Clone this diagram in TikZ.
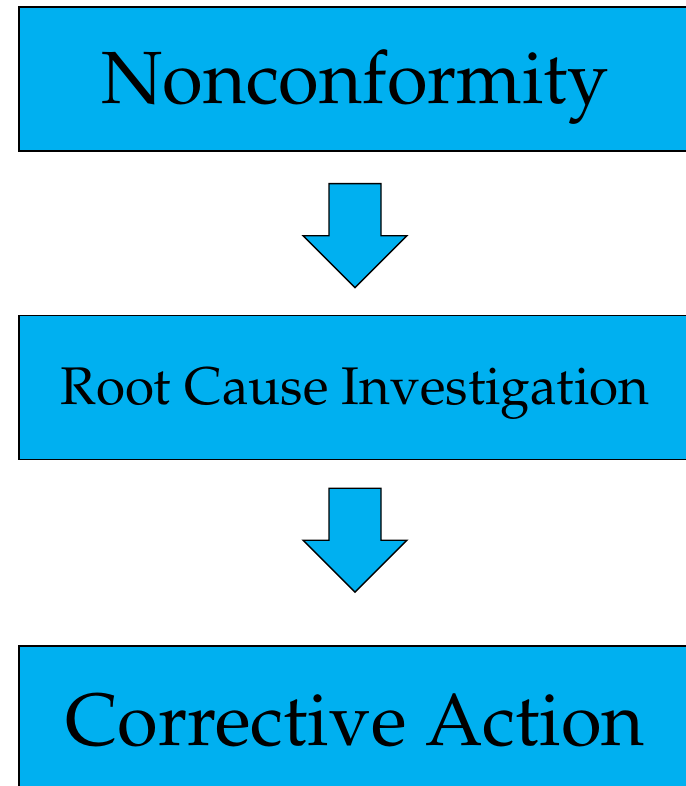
\documentclass[tikz,border=0pt]{standalone}
\usepackage[T1]{fontenc}
\usepackage{mathpazo}
\usetikzlibrary{positioning,calc}

\definecolor{boxblue}{RGB}{0,176,240}

\tikzset{
  stepbox/.style={draw=black, fill=boxblue, line width=1.3pt, rectangle,
    minimum width=672pt, minimum height=144pt, inner sep=0pt},
  blockarrow/.style={draw=black, fill=boxblue, line width=1.3pt, line join=miter}
}

\begin{document}
\begin{tikzpicture}[x=1pt, y=-1pt]
  % marco de la imagen
  \useasboundingbox (0,0) rectangle (685,786);

  % cajas del proceso
  \node[stepbox, text height=97pt, text depth=47pt,
    font=\fontsize{74}{80}\selectfont] (nonconf) at (355,79) {Nonconformity};
  \node[stepbox, text height=88.5pt, text depth=55pt,
    font=\fontsize{53}{58}\selectfont] (rootcause) at (355,387.5) {Root Cause Investigation};
  \node[stepbox, text height=99pt, text depth=45pt,
    font=\fontsize{74}{80}\selectfont] (corrective) at (355,718) {Corrective Action};

  % flechas de bloque entre las cajas
  \coordinate[below=32pt of nonconf] (arrowA);
  \coordinate[below=28pt of rootcause] (arrowB);
  \foreach \a in {arrowA, arrowB}{
    \draw[blockarrow] ($(\a)+(-26,0)$) -- ++(52,0) -- ++(0,52) -- ++(26,0)
      -- ++(-52,52) -- ++(-52,-52) -- ++(26,0) -- cycle;
  }
\end{tikzpicture}
\end{document}
